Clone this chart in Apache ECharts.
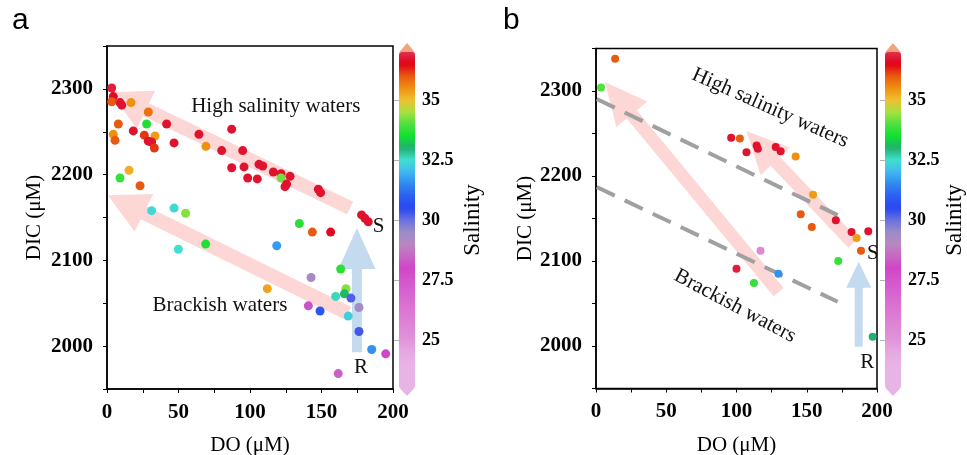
<!DOCTYPE html>
<html><head><meta charset="utf-8">
<script src="https://cdn.jsdelivr.net/npm/echarts@6/dist/echarts.min.js"></script>
<style>html,body{margin:0;padding:0;background:#fff}#c{width:967px;height:455px}</style>
</head><body><div id="c"></div>
<script>
// ---- Panel a data: DO (µM), DIC (µM), salinity ----
const doA = [3.3,4.4,3.3,9.1,10.3,16.8,28.9,41.7,64.3,87.2,
  7.9,27.7,18.4,4.4,5.6,26.1,33.6,28.9,31.2,33.1,
  46.9,69.2,80.2,94.9,87.2,95.8,98.4,9.1,15.4,23.1,
  105.1,106.3,108.9,116.3,121.7,121.7,128,125.6,124.5,147.8,
  149.4,178,180.4,182.7,134.5,143.6,156.4,118.7,163.4,142.7,
  112.1,167.1,166,159.9,170.6,176.2,140.8,149,168.7,176.2,
  185.1,194.9,161.7,31.2,46.9,55,49.9,69];
const dicA = [2301,2291,2285,2284,2281,2284,2273,2259,2247,2253,
  2259,2259,2251,2247,2240,2246,2245,2239,2238,2231,
  2237,2233,2228,2228,2208,2209,2196,2196,2205,2187,
  2195,2212,2210,2203,2201,2196,2198,2189,2186,2183,
  2179,2153,2149,2145,2143,2133,2133,2117,2090,2080,
  2067,2067,2061,2058,2056,2045,2047,2041,2035,2017,
  1996,1991,1968,2158,2161,2155,2113,2119];
const salA = [36.8,36.6,36.0,36.7,36.7,35.5,35.8,36.7,36.7,36.7,
  36.0,33.6,36.7,35.5,36.0,36.2,35.4,36.7,36.7,36.2,
  36.7,35.5,36.7,36.7,36.7,36.7,36.7,33.8,35.2,36.0,
  36.7,36.7,36.7,36.7,36.7,34.2,36.7,36.7,36.7,36.7,
  36.7,36.7,36.7,36.7,33.7,36.0,36.6,31.7,33.7,29.3,
  35.3,34.3,33.1,32.6,30.2,29.4,28.2,30.8,32.3,30.3,
  31.6,28.0,28.4,32.4,32.4,34.3,32.5,33.6];

// ---- Panel b data ----
const doB = [13.6,3.6,96.2,102.4,107.1,114.3,115.2,127.9,131.4,142.1,154.5,145.7,170.7,153.6,181.9,193.8,185.5,188.6,172.4,117.1,100,112.4,129.8,196.9];
const dicB = [2338,2304,2245,2244,2228,2236,2232,2234,2229,2223,2178,2155,2148,2140,2134,2135,2127,2112,2100,2112,2091,2074,2085,2011];
const salB = [36.0,34.0,36.7,36.0,36.7,36.7,36.7,36.7,36.7,35.5,35.4,36.0,36.7,36.0,36.7,36.7,35.4,36.0,33.8,25.5,36.8,33.8,31.6,33.0];

// ---- Tick labels ----
const xTickLabels = [0,50,100,150,200];
const yTickLabels = [2000,2100,2200,2300];
const salTickLabels = [25,27.5,30,32.5,35];
const salRange = [23,37];
const salColors = ['#e8b4e6','#e8b4e6','#e8b2e6','#e6a8e2','#e094da','#de88d6','#dc7cd4','#da70d2','#d862d0','#d456cc',
  '#d044c8','#c868c4','#b888c0','#9c8cc8','#6870e0','#2a46f2','#2a60f2','#3088f0','#40b8f0','#40e0d0',
  '#20b070','#10e030','#50e040','#a8e040','#f0c030','#f09010','#e85a10','#e00018','#e03050'];

// ---- Annotations (data coordinates: tail x, tail y, tip x, tip y) ----
const pinkArrowsA = [[170,2161,2.1,2296],[168.5,2038.5,0.7,2176]];
const blueArrowsA = [[174.8,1993,174.8,2137.7]];
const pinkArrowsB = [[130,2063.5,6.4,2310.6],[183,2121,107,2253]];
const blueArrowsB = [[187,1999,187,2099]];
const dashLinesB = [[[0.5,2290.6],[172,2154]],[[0.5,2187],[172,2052]]];
const notesA = [['High salinity waters',118,2280,0],['Brackish waters',79,2047,0],['S',190,2139,0],['R',177.6,1975.5,0]];
const notesB = [['High salinity waters',124,2280,-24],['Brackish waters',99,2047,-28],['S',197,2109,0],['R',193,1981,0]];

const SERIF = '"Liberation Serif","Times New Roman",serif';

function mkX(g, gap){
  return {gridIndex:g, type:'value', min:0, max:200, interval:25,
    axisLine:{show:true, onZero:false, lineStyle:{color:'#000', width:1.5}},
    axisTick:{show:true, length:4, lineStyle:{color:'#000', width:1}},
    axisLabel:{formatter:v=>xTickLabels.includes(v)?String(v):'', color:'#000', fontFamily:SERIF, fontWeight:'bold', fontSize:21, margin:13},
    splitLine:{show:false},
    name:'DO (μM)', nameLocation:'middle', nameGap:gap,
    nameTextStyle:{fontFamily:SERIF, fontSize:21, color:'#000'}};
}
function mkY(g, gap){
  return {gridIndex:g, type:'value', min:1950, max:2350, interval:50,
    axisLine:{show:true, onZero:false, lineStyle:{color:'#000', width:1.5}},
    axisTick:{show:true, length:4, lineStyle:{color:'#000', width:1}},
    axisLabel:{formatter:v=>yTickLabels.includes(v)?String(v):'', color:'#000', fontFamily:SERIF, fontWeight:'bold', fontSize:21, margin:14},
    splitLine:{show:false},
    name:'DIC (μM)', nameLocation:'middle', nameGap:gap, nameRotate:90,
    nameTextStyle:{fontFamily:SERIF, fontSize:21, color:'#000'}};
}
function mkSalAxis(g, gap){
  return {gridIndex:g, type:'value', min:salRange[0], max:salRange[1], position:'right', z:10,
    axisLine:{show:false},
    axisTick:{show:true, inside:true, length:5, customValues:salTickLabels, lineStyle:{color:'rgba(0,0,0,0.3)', width:1}},
    axisLabel:{customValues:salTickLabels, formatter:v=>String(v), color:'#000', fontFamily:SERIF, fontWeight:'bold', fontSize:18, margin:7},
    splitLine:{show:false},
    name:'Salinity', nameLocation:'middle', nameRotate:90, nameGap:gap,
    nameTextStyle:{fontFamily:SERIF, fontSize:23, color:'#000'}};
}

function arrowSeries(data, xi, color, sw, hw, hl){
  return {type:'custom', xAxisIndex:xi, yAxisIndex:xi, z:1, silent:true,
    data:data,
    renderItem:(params, api)=>{
      const t = api.coord([api.value(0), api.value(1)]);
      const h = api.coord([api.value(2), api.value(3)]);
      const dx = h[0]-t[0], dy = h[1]-t[1];
      const L = Math.hypot(dx,dy);
      const ux = dx/L, uy = dy/L, nx = -uy, ny = ux;
      const bx = h[0]-ux*hl, by = h[1]-uy*hl;
      const pts = [
        [t[0]+nx*sw/2, t[1]+ny*sw/2],
        [bx+nx*sw/2, by+ny*sw/2],
        [bx+nx*hw/2, by+ny*hw/2],
        [h[0], h[1]],
        [bx-nx*hw/2, by-ny*hw/2],
        [bx-nx*sw/2, by-ny*sw/2],
        [t[0]-nx*sw/2, t[1]-ny*sw/2]];
      return {type:'polygon', shape:{points:pts}, style:{fill:color}};
    }};
}
function noteSeries(notes, xi){
  return {type:'custom', xAxisIndex:xi, yAxisIndex:xi, z:6, silent:true,
    data:notes.map(n=>[n[1], n[2]]),
    renderItem:(params, api)=>{
      const n = notes[params.dataIndex];
      const p = api.coord([api.value(0), api.value(1)]);
      return {type:'text', x:p[0], y:p[1], rotation:n[3]*Math.PI/180,
        style:{text:n[0], fill:'#111', fontFamily:SERIF, fontSize:21, align:'center', verticalAlign:'middle'}};
    }};
}

const PINK = 'rgba(252,200,200,0.75)';
const BLUE = 'rgba(190,214,236,0.9)';

const chart = echarts.init(document.getElementById('c'), null, {renderer:'canvas'});
const gridBase = {outerBoundsMode:'none', containLabel:false};
const option = {
  animation:false,
  backgroundColor:'#fff',
  grid:[
    Object.assign({left:107, top:46, width:286, height:343, show:true, borderColor:'#000', borderWidth:1.5}, gridBase),
    Object.assign({left:596, top:48.5, width:281, height:340, show:true, borderColor:'#000', borderWidth:1.5}, gridBase),
    Object.assign({left:399, top:52, width:16, height:336}, gridBase),
    Object.assign({left:885, top:52, width:16, height:336}, gridBase)
  ],
  xAxis:[mkX(0,46), mkX(1,46), {gridIndex:2, type:'value', show:false}, {gridIndex:3, type:'value', show:false}],
  yAxis:[mkY(0,62), mkY(1,50), mkSalAxis(2,46), mkSalAxis(3,42)],
  visualMap:[
    {type:'continuous', min:salRange[0], max:salRange[1], seriesIndex:0, dimension:2, left:399, top:52,
      itemWidth:16, itemHeight:336, padding:0, calculable:false, hoverLink:false, inRange:{color:salColors}},
    {type:'continuous', min:salRange[0], max:salRange[1], seriesIndex:1, dimension:2, left:885, top:52,
      itemWidth:16, itemHeight:336, padding:0, calculable:false, hoverLink:false, inRange:{color:salColors}}
  ],
  graphic:[
    {type:'text', left:12, top:6, style:{text:'a', fill:'#000', fontFamily:'"Liberation Sans",Arial,sans-serif', fontSize:30}},
    {type:'text', left:503, top:6, style:{text:'b', fill:'#000', fontFamily:'"Liberation Sans",Arial,sans-serif', fontSize:30}},
    {type:'polygon', shape:{points:[[399,52.5],[415,52.5],[407,43]]}, style:{fill:'#f2a27e'}},
    {type:'polygon', shape:{points:[[399,387.5],[415,387.5],[407,396]]}, style:{fill:'#e8b4e6'}},
    {type:'polygon', shape:{points:[[885,52.5],[901,52.5],[893,43]]}, style:{fill:'#f2a27e'}},
    {type:'polygon', shape:{points:[[885,387.5],[901,387.5],[893,396]]}, style:{fill:'#e8b4e6'}}
  ],
  series:[
    {type:'scatter', xAxisIndex:0, yAxisIndex:0, symbolSize:9, z:5, itemStyle:{opacity:1},
      data:doA.map((x,i)=>[x, dicA[i], salA[i]])},
    {type:'scatter', xAxisIndex:1, yAxisIndex:1, symbolSize:8, z:5, itemStyle:{opacity:1},
      data:doB.map((x,i)=>[x, dicB[i], salB[i]])},
    arrowSeries(pinkArrowsA, 0, PINK, 14, 42, 40),
    arrowSeries(blueArrowsA, 0, BLUE, 10, 37, 41),
    arrowSeries(pinkArrowsB, 1, PINK, 13, 40, 42),
    arrowSeries(blueArrowsB, 1, BLUE, 8, 25, 26),
    ...dashLinesB.map(d=>({type:'line', xAxisIndex:1, yAxisIndex:1, data:d, symbol:'none', z:3, silent:true,
      lineStyle:{color:'#a0a0a0', width:4, type:[20,11]}})),
    noteSeries(notesA, 0),
    noteSeries(notesB, 1)
  ]
};
chart.setOption(option);
</script>
</body></html>
